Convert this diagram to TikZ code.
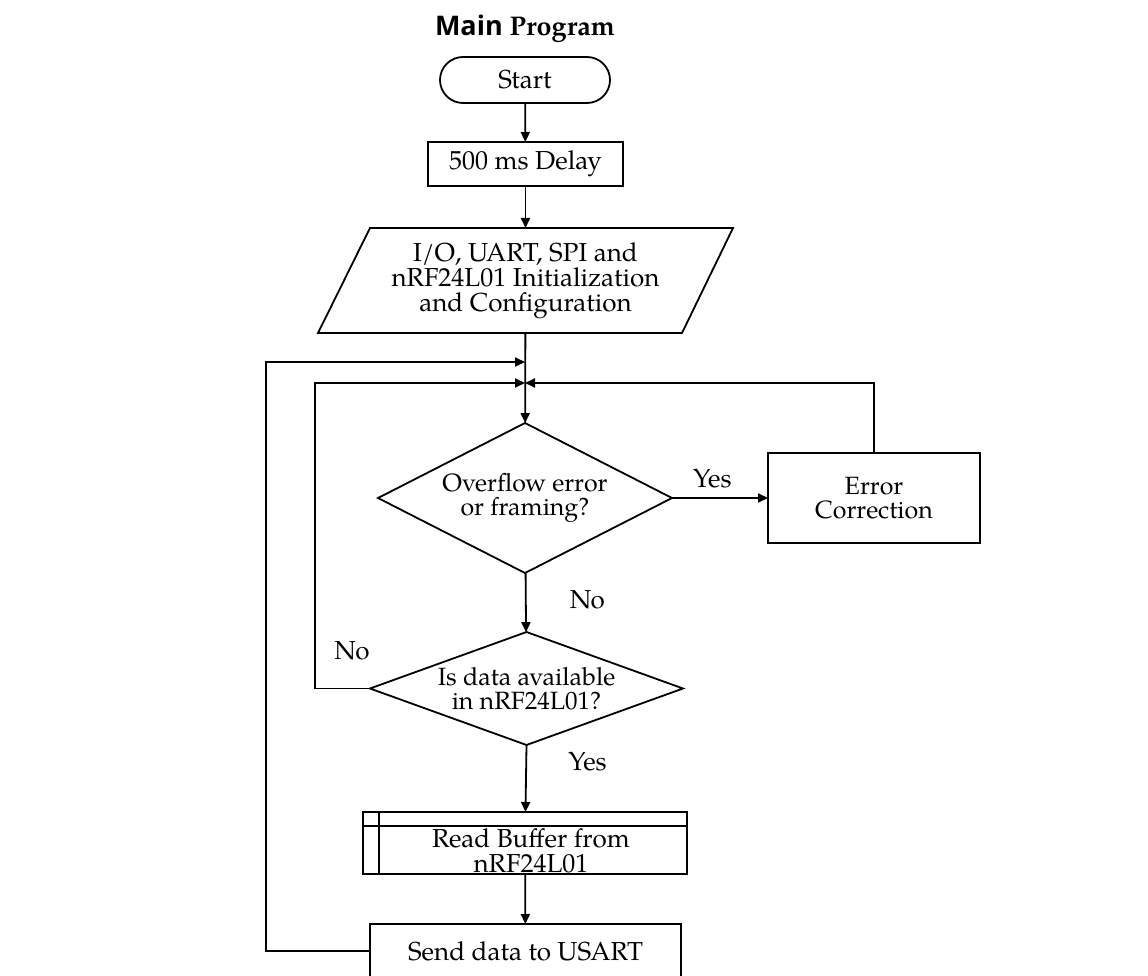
\documentclass[tikz,border=0pt]{standalone}
\usepackage{fontspec}
\setmainfont{TeX Gyre Pagella}
\newfontfamily\titlefont{Open Sans}
\usetikzlibrary{shapes.geometric,shapes.misc,arrows.meta,calc}
\begin{document}
\begin{tikzpicture}[x=1pt,y=-1pt,
  line width=1.8pt,
  every node/.style={inner sep=0pt, outer sep=0pt},
  body/.style={font=\fontsize{26}{25}\selectfont, align=center},
  cond/.style={font=\fontsize{25}{24}\selectfont, align=center},
  procbox/.style={draw, rectangle, body},
  decbox/.style={draw, diamond},
  arr/.style={-{Triangle[length=10pt,width=9pt]}},
  lbl/.style={font=\fontsize{26}{26}\selectfont}
]
\useasboundingbox (0,0) rectangle (1148,976);
\clip (0,0) rectangle (1148,976);

% title
\node[font=\fontsize{27}{28}\selectfont] (title) at (525,29) {{\titlefont\bfseries Main} \textbf{Program}};

% nodes
\node[draw, rounded rectangle, body, minimum width=170, minimum height=46] (start) at (525,80) {Start};
\node[procbox, minimum width=195, minimum height=44] (delay) at (525.5,164) {500 ms Delay};
\node[body, minimum width=310, minimum height=105] (init) at (525.5,280.5) {I/O, UART, SPI and\\nRF24L01 Initialization\\and Configuration};
\draw (370,228) -- (733,228) -- (682,333) -- (318,333) -- cycle;

\node[decbox, minimum width=294, minimum height=150,
  label={[cond]center:Overflow error\\or framing?}] (d1) at (525,498) {};
\node[draw, rectangle, cond, minimum width=212, minimum height=90] (ec) at (874,498) {Error\\Correction};
\node[decbox, minimum width=313, minimum height=113,
  label={[cond]center:Is data available\\in nRF24L01?}] (d2) at (526.5,688.5) {};

\node[draw, rectangle, minimum width=324, minimum height=62] (rb) at (525,843) {};
\draw ($(rb.north west)+(0,14)$) -- ($(rb.north east)+(0,14)$);
\draw ($(rb.north west)+(16,0)$) -- ($(rb.south west)+(16,0)$);
\node[body] (rbt) at (531,851) {Read Buffer from\\nRF24L01};

\node[procbox, minimum width=311, minimum height=54] (sd) at (525.5,951) {Send data to USART};

% junction points
\coordinate (j1) at (525,362);
\coordinate (j2) at (525,383);

% connectors
\draw[arr] (start) -- (delay);
\draw[arr] (delay) -- (init);
\draw[arr] (init) -- (d1);
\draw[arr] (d1) -- node[lbl, pos=0.42, above=10pt] {Yes} (ec);
\draw[arr] (d1) -- node[lbl, right=44pt, pos=0.45] {No} (d2);
\draw[arr] (d2.south) -- node[lbl, right=42pt, pos=0.25] {Yes} (rb);
\draw[arr] (rb) -- (sd);
\draw[arr] (sd.west) -| (266,362) -- (j1);
\draw[arr] (d2.west) -| (315,383) -- (j2);
\draw[arr] (ec.north) |- (j2);
\node[lbl] (no2) at (352,651) {No};
\end{tikzpicture}
\end{document}
